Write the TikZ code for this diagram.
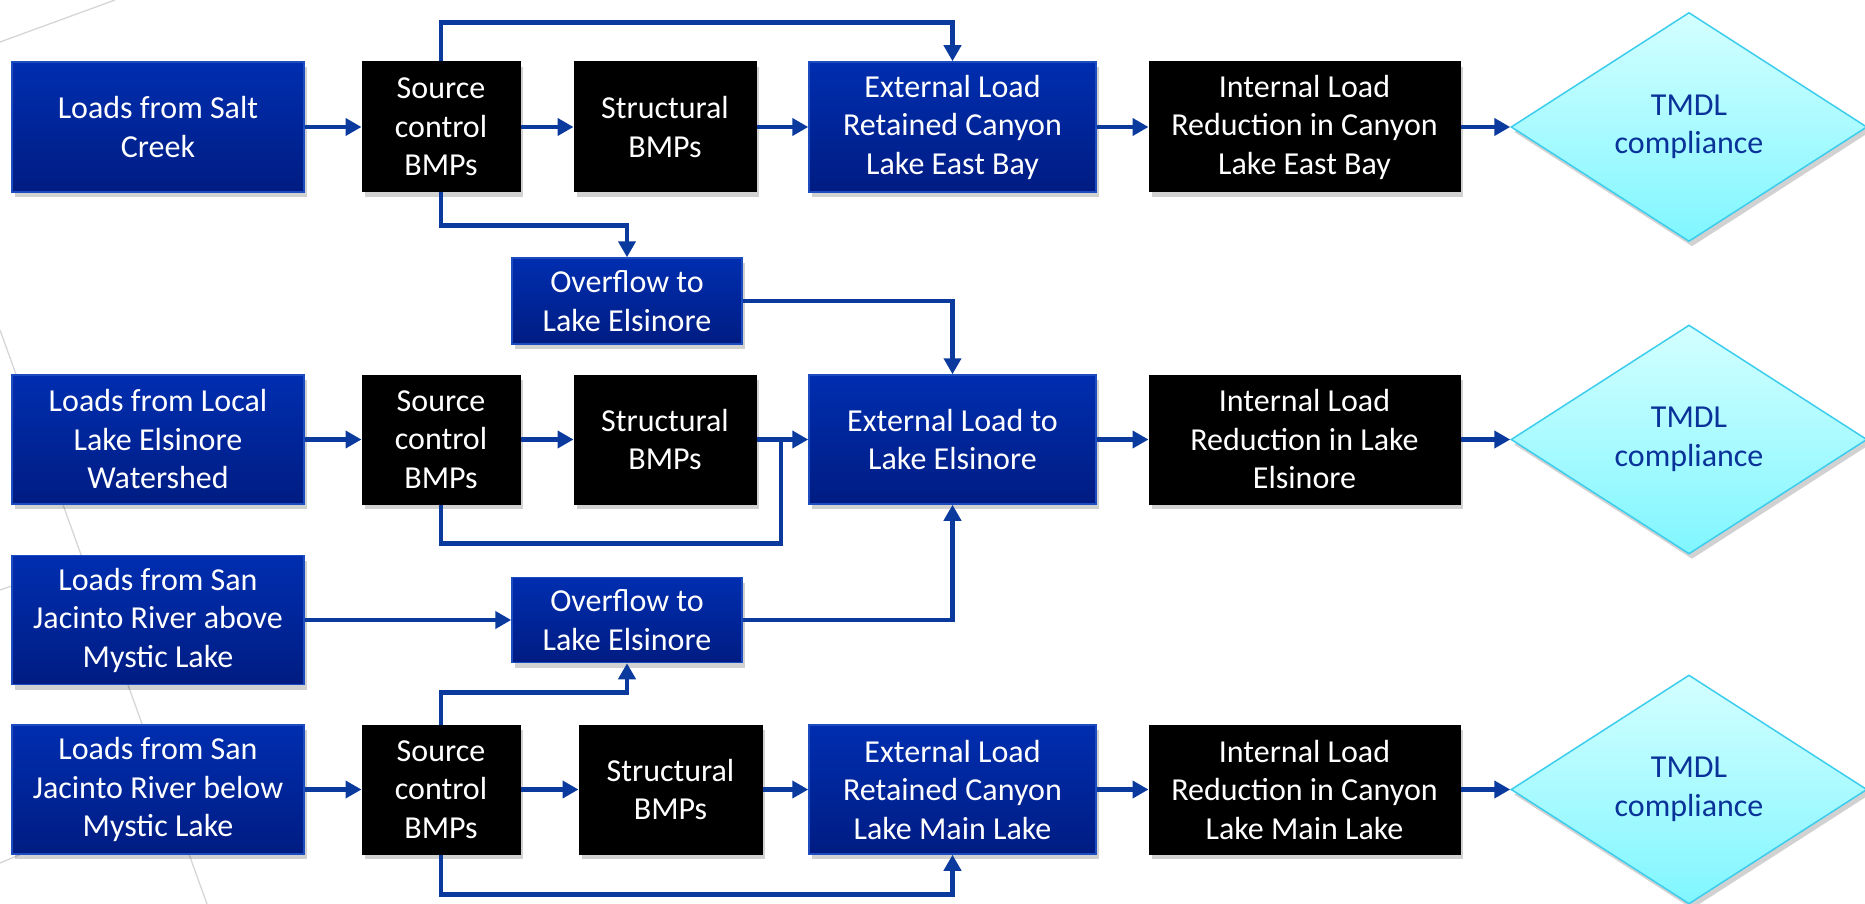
\documentclass[tikz,border=0pt]{standalone}
\usepackage{fontspec}
\setmainfont{Carlito}
\usetikzlibrary{shapes.geometric,arrows.meta,shadows}
\definecolor{arrowblue}{HTML}{0A3A9E}
\definecolor{bluetop}{HTML}{002EB0}
\definecolor{bluebot}{HTML}{001C82}
\definecolor{boxedge}{HTML}{1D4CC0}
\definecolor{diatop}{HTML}{D4FFFF}
\definecolor{diabot}{HTML}{80F6FF}
\definecolor{diaedge}{HTML}{3CCDEE}
\definecolor{diatext}{HTML}{0A3399}
\definecolor{bgline}{HTML}{D6D6D6}
\tikzset{
  boxfont/.style={font=\fontsize{32}{38.5}\selectfont},
  box/.style={rectangle, inner sep=0pt, align=center, text=white, boxfont,
    drop shadow={shadow xshift=3pt, shadow yshift=-5pt, opacity=0.18, fill=black}},
  bluebox/.style={box, draw=boxedge, line width=1.5pt, top color=bluetop, bottom color=bluebot},
  blackbox/.style={box, fill=black, draw=black, line width=1pt},
  decision/.style={diamond, inner sep=0pt, align=center, boxfont, text=diatext,
    draw=diaedge, line width=1.5pt, top color=diatop, bottom color=diabot,
    minimum width=356pt, minimum height=229pt,
    drop shadow={shadow xshift=3pt, shadow yshift=-5pt, opacity=0.18, fill=black}},
  flow/.style={draw=arrowblue, line width=4.5pt, -{Triangle[length=16pt,width=17pt]}},
  link/.style={draw=arrowblue, line width=4.5pt},
  bgstroke/.style={draw=bgline, line width=1.3pt}
}
\begin{document}
\begin{tikzpicture}[x=1pt,y=-1pt]
\useasboundingbox (0,0) rectangle (1865,904);
\fill[white] (0,0) rectangle (1865,904);
% background decoration
\draw[bgstroke] (0,42) -- (115,0);
\draw[bgstroke] (0,330) -- (207,904);
\draw[bgstroke] (0,590) -- (40,576);
\draw[bgstroke] (0,863) -- (40,846);

% row 1
\node[bluebox, minimum width=292pt, minimum height=130pt] (salt) at (158,127) {Loads from Salt\\Creek};
\node[blackbox, minimum width=158pt, minimum height=130pt] (src1) at (441,127) {Source\\control\\BMPs};
\node[blackbox, minimum width=182pt, minimum height=130pt] (str1) at (665,127) {Structural\\BMPs};
\node[bluebox, minimum width=287pt, minimum height=130pt] (ext1) at (952.5,127) {External Load\\Retained Canyon\\Lake East Bay};
\node[blackbox, minimum width=311pt, minimum height=130pt] (int1) at (1304.5,127) {Internal Load\\Reduction in Canyon\\Lake East Bay};
\node[decision] (tmdl1) at (1689,127) {TMDL\\compliance};

\node[bluebox, minimum width=230pt, minimum height=86pt] (ovf1) at (627,301) {Overflow to\\Lake Elsinore};

% row 2
\node[bluebox, minimum width=292pt, minimum height=129pt] (local) at (158,439.5) {Loads from Local\\Lake Elsinore\\Watershed};
\node[blackbox, minimum width=158pt, minimum height=129pt] (src2) at (441,439.5) {Source\\control\\BMPs};
\node[blackbox, minimum width=182pt, minimum height=129pt] (str2) at (665,439.5) {Structural\\BMPs};
\node[bluebox, minimum width=287pt, minimum height=129pt] (extle) at (952.5,439.5) {External Load to\\Lake Elsinore};
\node[blackbox, minimum width=311pt, minimum height=129pt] (intle) at (1304.5,439.5) {Internal Load\\Reduction in Lake\\Elsinore};
\node[decision] (tmdl2) at (1689,439.5) {TMDL\\compliance};

\node[bluebox, minimum width=292pt, minimum height=129pt] (sjab) at (158,620) {Loads from San\\Jacinto River above\\Mystic Lake};
\node[bluebox, minimum width=230pt, minimum height=85pt] (ovf2) at (627,620) {Overflow to\\Lake Elsinore};

% row 3
\node[bluebox, minimum width=292pt, minimum height=129pt] (sjbe) at (158,789.5) {Loads from San\\Jacinto River below\\Mystic Lake};
\node[blackbox, minimum width=158pt, minimum height=129pt] (src3) at (441,789.5) {Source\\control\\BMPs};
\node[blackbox, minimum width=183pt, minimum height=129pt] (str3) at (670.5,789.5) {Structural\\BMPs};
\node[bluebox, minimum width=287pt, minimum height=129pt] (ext3) at (952.5,789.5) {External Load\\Retained Canyon\\Lake Main Lake};
\node[blackbox, minimum width=311pt, minimum height=129pt] (int3) at (1304.5,789.5) {Internal Load\\Reduction in Canyon\\Lake Main Lake};
\node[decision] (tmdl3) at (1689,789.5) {TMDL\\compliance};

% connectors row 1
\draw[flow] (salt) -- (src1);
\draw[flow] (src1) -- (str1);
\draw[flow] (str1) -- (ext1);
\draw[flow] (ext1) -- (int1);
\draw[flow] (int1) -- (tmdl1);
\draw[flow] (src1.north) -- ++(0,-39) -| (ext1.north);
\draw[flow] (src1.south) -- ++(0,33) -| (ovf1.north);
\draw[flow] (ovf1.east) -| (extle.north);

% connectors row 2
\coordinate (j2) at (781,439.5);
\draw[flow] (local) -- (src2);
\draw[flow] (src2) -- (str2);
\draw[flow] (str2) -- (extle);
\draw[link] (src2.south) -- ++(0,39) -| (j2);
\draw[flow] (extle) -- (intle);
\draw[flow] (intle) -- (tmdl2);
\draw[flow] (sjab) -- (ovf2);
\draw[flow] (ovf2.east) -| (extle.south);

% connectors row 3
\draw[flow] (sjbe) -- (src3);
\draw[flow] (src3) -- (str3);
\draw[flow] (str3) -- (ext3);
\draw[flow] (ext3) -- (int3);
\draw[flow] (int3) -- (tmdl3);
\draw[flow] (src3.north) -- ++(0,-32) -| (ovf2.south);
\draw[flow] (src3.south) -- ++(0,40) -| (ext3.south);
\end{tikzpicture}
\end{document}
